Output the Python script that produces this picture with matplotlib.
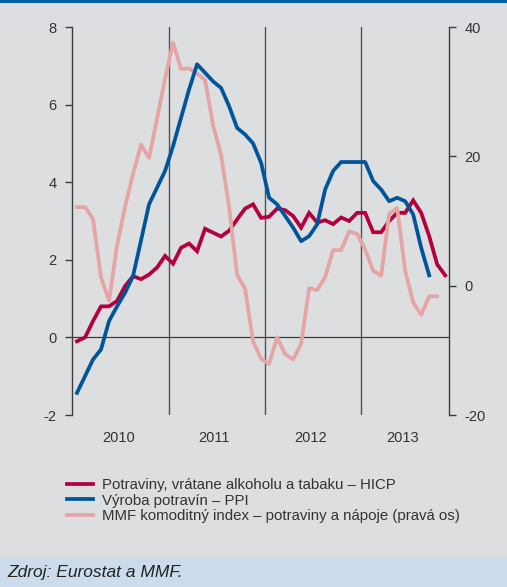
import numpy as np
import matplotlib.pyplot as plt
from matplotlib.patches import Rectangle

plt.rcParams['font.family'] = ['Liberation Sans', 'DejaVu Sans']
plt.rcParams['axes.unicode_minus'] = False

# mesacne hodnoty od januara 2010, medzirocne zmeny v %
hicp = [-0.1, 0.0, 0.42, 0.8, 0.8, 0.94, 1.32, 1.58, 1.5, 1.62, 1.8, 2.1,
        1.9, 2.31, 2.42, 2.22, 2.8, 2.7, 2.6, 2.75, 3.04, 3.32, 3.43, 3.08,
        3.11, 3.32, 3.28, 3.13, 2.83, 3.21, 2.96, 3.02, 2.92, 3.09, 3.0, 3.21,
        3.21, 2.71, 2.71, 3.0, 3.21, 3.21, 3.53, 3.21, 2.61, 1.88, 1.6]
ppi = [-1.43, -1.0, -0.57, -0.31, 0.42, 0.8, 1.15, 1.58, 2.5, 3.43, 3.86, 4.29,
       4.93, 5.66, 6.39, 7.04, 6.82, 6.6, 6.43, 5.96, 5.4, 5.23, 5.0, 4.5,
       3.6, 3.43, 3.13, 2.83, 2.48, 2.61, 2.91, 3.81, 4.29, 4.52, 4.52, 4.52,
       4.52, 4.03, 3.81, 3.51, 3.6, 3.51, 3.17, 2.31, 1.6]
mmf = [12.15, 12.15, 10.34, 1.3, -2.33, 6.2, 12.15, 17.3, 21.8, 19.75, 25.8, 32.0,
       37.6, 33.5, 33.6, 32.8, 31.8, 24.8, 20.2, 12.2, 1.7, -0.5, -8.6, -11.3,
       -12.1, -8.0, -10.6, -11.4, -9.0, -0.4, -0.7, 1.3, 5.5, 5.5, 8.4, 8.0,
       5.6, 2.3, 1.55, 11.1, 12.0, 2.3, -2.6, -4.5, -1.65, -1.65]
years = [2010, 2011, 2012, 2013]
labels = ['Potraviny, vrátane alkoholu a tabaku – HICP',
          'Výroba potravín – PPI',
          'MMF komoditný index – potraviny a nápoje (pravá os)']

c_red, c_blue, c_pink = '#b4003c', '#00559a', '#e6a5a5'
bg = '#dcdee0'
gray = '#3c3c3c'


def months(vals):
    return 2010 + (np.arange(len(vals)) + 0.5) / 12


fig = plt.figure(figsize=(5.07, 5.87), dpi=100, facecolor=bg)
ax = fig.add_axes([0.142, 0.293, 0.744, 0.661])
ax.set_facecolor(bg)
ax2 = ax.twinx()

ax.axhline(0, color=gray, lw=0.9, zorder=1)
for y in years[1:]:
    ax.axvline(y, color='#505050', lw=1.0, zorder=1)

l1, = ax.plot(months(hicp), hicp, color=c_red, lw=2.7, solid_joinstyle='miter', zorder=3)
l3, = ax2.plot(months(mmf), mmf, color=c_pink, lw=2.7, zorder=2)
# PPI ide cez lavu os, ale kresli sa navrch
l2, = ax2.plot(months(ppi), ppi, color=c_blue, lw=2.7, zorder=3, transform=ax.transData)

ax.set_xlim(2010 - 1 / 96, 2013 + 88 / 96)
ax.set_ylim(-2, 8)
ax2.set_ylim(-20, 40)
ax.set_yticks([-2, 0, 2, 4, 6, 8])
ax2.set_yticks([-20, 0, 20, 40])
ax.set_xticks([])

for a in (ax, ax2):
    for s in ('top', 'bottom'):
        a.spines[s].set_visible(False)
    for s in ('left', 'right'):
        a.spines[s].set_color(gray)
        a.spines[s].set_linewidth(1.0)
    a.tick_params(axis='y', length=5, width=1, color=gray, labelcolor='#333333',
                  labelsize=10.5, pad=6)
ax.spines['right'].set_visible(False)
ax2.spines['left'].set_visible(False)

for y in years:
    mid = (max(y, 2010) + min(y + 1, 2013 + 88 / 96)) / 2
    ax.text(mid - 0.03, -0.04, str(y), transform=ax.get_xaxis_transform(),
            ha='center', va='top', fontsize=10.5, color='#333333')

fig.legend([l1, l2, l3], labels, loc='upper left', bbox_to_anchor=(0.106, 0.209),
           frameon=False, fontsize=10.8, handlelength=1.7, handletextpad=0.65,
           labelspacing=0.12, labelcolor='#333333')

fig.patches.append(Rectangle((0, 0), 1, 30 / 587, transform=fig.transFigure,
                             facecolor='#cddcec', edgecolor='none', zorder=0))
fig.patches.append(Rectangle((0, 1 - 3 / 587), 1, 3 / 587, transform=fig.transFigure,
                             facecolor='#0061a8', edgecolor='none', zorder=0))
fig.text(0.014, 15 / 587, 'Zdroj: Eurostat a MMF.', ha='left', va='center',
         fontsize=12.5, style='italic', color='#222222',
         family=['Liberation Sans Narrow', 'Liberation Sans'])

fig.savefig('out.png', dpi=100, facecolor=bg)
